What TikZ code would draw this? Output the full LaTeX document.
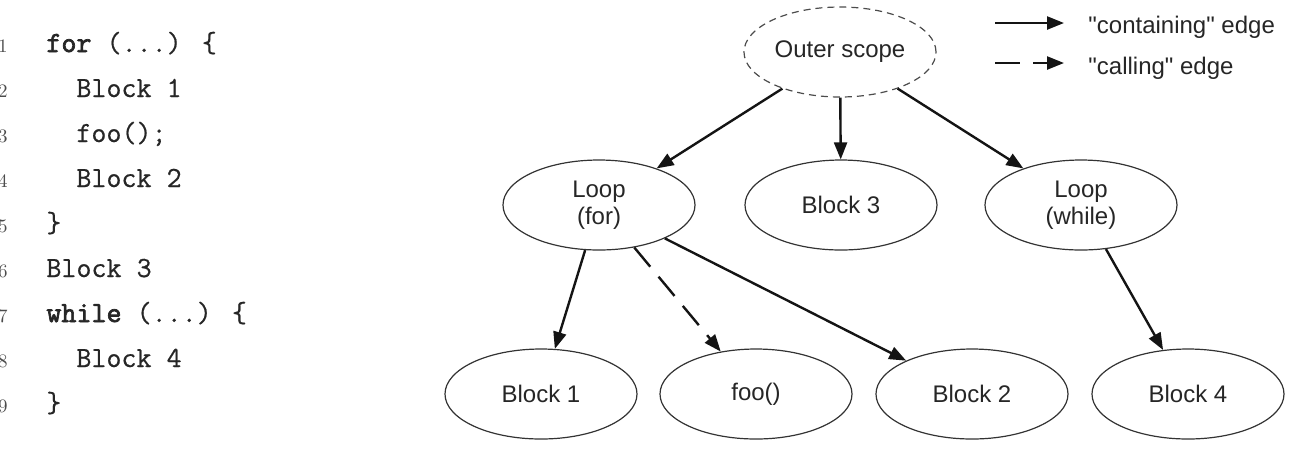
\documentclass[tikz,border=0pt]{standalone}
\usepackage{fontspec}
\newfontfamily\labelfont{Liberation Sans}
\newfontfamily\codefont{Latin Modern Mono}[FakeBold=0.6]
\newfontfamily\codeboldfont{Latin Modern Mono}[FakeBold=2.4]
\usetikzlibrary{shapes.geometric,arrows.meta}
\begin{document}
\begin{tikzpicture}[x=0.5pt,y=-0.5pt,
  blk/.style={ellipse,draw=black!80,line width=0.6pt,minimum width=96pt,minimum height=45pt,inner sep=0pt,align=center,
    font=\labelfont\fontsize{12}{13.5}\selectfont,text=black!85},
  outerblk/.style={blk,draw=black!70,dash pattern=on 3.5pt off 2.5pt},
  contain/.style={-{Triangle[length=8.5pt,width=6.5pt]},line width=1.2pt,draw=black!92},
  calledge/.style={contain,dash pattern=on 12.5pt off 6.5pt},
  code/.style={inner sep=0pt,anchor=base west,font=\codefont\fontsize{14.6}{17}\selectfont,text=black!85},
  num/.style={inner sep=0pt,anchor=base east,font=\fontsize{9.5}{11}\selectfont,text=black!70},
  legtext/.style={inner sep=0pt,anchor=base west,font=\labelfont\fontsize{12}{13.5}\selectfont,text=black!85}]
\useasboundingbox (0,0) rectangle (1297,463);

% code listing
\node[num] (n1) at (8,52)  {1};
\node[num] (n2) at (8,97)  {2};
\node[num] (n3) at (8,142) {3};
\node[num] (n4) at (8,187) {4};
\node[num] (n5) at (8,232) {5};
\node[num] (n6) at (8,277) {6};
\node[num] (n7) at (8,322) {7};
\node[num] (n8) at (8,367) {8};
\node[num] (n9) at (8,412) {9};
\node[code] (c1) at (46,52)  {{\codeboldfont for} (...) \{};
\node[code] (c2) at (76,97)  {Block 1};
\node[code] (c3) at (76,142) {foo();};
\node[code] (c4) at (76,187) {Block 2};
\node[code] (c5) at (46,232) {\}};
\node[code] (c6) at (46,277) {Block 3};
\node[code] (c7) at (46,322) {{\codeboldfont while} (...) \{};
\node[code] (c8) at (76,367) {Block 4};
\node[code] (c9) at (46,412) {\}};

% graph
\node[outerblk] (outer) at (840,52) {Outer scope};
\node[blk] (lfor)   at (599,205)  {Loop\\(for)};
\node[blk] (b3)     at (841,205)  {Block 3};
\node[blk] (lwhile) at (1081,205) {Loop\\(while)};
\node[blk] (b1)     at (541,394)  {Block 1};
\node[blk] (foo)    at (756,394)  {foo()};
\node[blk] (b2)     at (972,394)  {Block 2};
\node[blk] (b4)     at (1188,394) {Block 4};

\draw[contain] (outer) -- (lfor);
\draw[contain] (outer) -- (b3);
\draw[contain] (outer) -- (lwhile);
\draw[contain] (lfor) -- (b1);
\draw[calledge] (lfor) -- (foo);
\draw[contain] (lfor) -- (b2);
\draw[contain] (lwhile) -- (b4);

% legend
\coordinate (la) at (995,23);
\coordinate (lb) at (1064,23);
\coordinate (lc) at (995,63);
\coordinate (ld) at (1064,63);
\draw[contain] (la) -- (lb);
\draw[calledge] (lc) -- (ld);
\node[legtext] (t1) at (1088,33) {"containing" edge};
\node[legtext] (t2) at (1088,74) {"calling" edge};
\end{tikzpicture}
\end{document}
